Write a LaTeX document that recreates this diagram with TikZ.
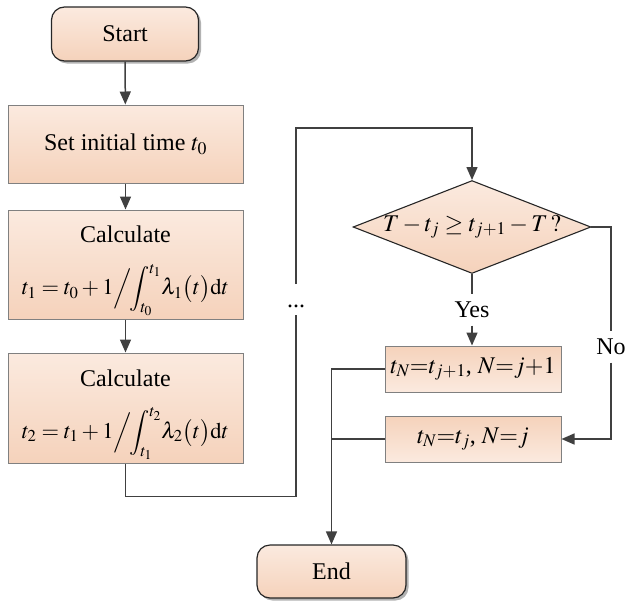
\documentclass[tikz,border=0pt]{standalone}
\usepackage{mathptmx}
\usepackage[no-math]{fontspec}
\setmainfont{Liberation Serif}
\usetikzlibrary{arrows.meta,shapes.geometric,shadows}
\definecolor{peachL}{HTML}{FBEADF}
\definecolor{peachD}{HTML}{F5D2BB}
\definecolor{linec}{HTML}{404040}
\definecolor{edgec}{HTML}{808080}
\newcommand{\fsmall}{\fontsize{22.5}{26}\selectfont}
\begin{document}
\begin{tikzpicture}[x=1pt,y=-1pt, font=\fontsize{24}{28}\selectfont,
  conn/.style={draw=linec, line width=1.5pt},
  arr/.style={conn, -{Triangle[length=13pt,width=11pt]}},
  proc/.style={draw=edgec, line width=1pt, inner sep=0pt, align=center},
  procdown/.style={proc, top color=peachL, bottom color=peachD, minimum width=235pt},
  procup/.style={proc, top color=peachD, bottom color=peachL, minimum width=176pt, minimum height=46pt},
  term/.style={draw=black!85, line width=1.2pt, rounded corners=13pt, top color=peachL, bottom color=peachD,
    minimum width=147pt, minimum height=54pt,
    drop shadow={shadow xshift=2.5pt, shadow yshift=-2.5pt, opacity=0.3, fill=black}},
  decision/.style={diamond, draw=black!85, line width=1.1pt, top color=peachL, bottom color=peachD,
    inner sep=0pt, minimum width=233pt, minimum height=91pt, aspect=2.56},
  lbl/.style={inner sep=0pt, minimum height=31pt}
]
\useasboundingbox (0,0) rectangle (626,603);

\node[term] (start) at (125,34) {Start};
\node[procdown, minimum height=78pt] (init) at (125.5,144) {Set initial time $t_0$};
\node[procdown, minimum height=109pt] (calc1) at (125.5,264.5)
  {\rule{0pt}{30pt}Calculate\\[20pt]{\fsmall$\displaystyle t_1 = t_0 + 1\Big/\!\!\int_{t_0}^{t_1}\!\lambda_1\bigl(t\bigr)\mathrm{d}t$}};
\node[procdown, minimum height=110pt] (calc2) at (125.5,408)
  {\rule{0pt}{30pt}Calculate\\[20pt]{\fsmall$\displaystyle t_2 = t_1 + 1\Big/\!\!\int_{t_1}^{t_2}\!\lambda_2\bigl(t\bigr)\mathrm{d}t$}};
\node[decision] (dec) at (472,227) {$T - t_j \geq t_{j+1} - T\,?$};
\node[procup] (res1) at (473,369) {$t_N{=}t_{j+1}$, $N{=}j{+}1$};
\node[procup] (res2) at (473,439) {$t_N{=}t_j$, $N{=}j$};
\node[term, minimum width=149pt, minimum height=53pt] (end) at (331.5,571.5) {End};

\draw[arr] (start) -- (init);
\draw[arr] (init) -- (calc1);
\draw[arr] (calc1) -- (calc2);

\coordinate (gapB) at (296,315);
\coordinate (gapT) at (296,284);
\coordinate (loopTop) at (296,128);
\node[inner sep=0pt] (dots) at (296,306) {...};
\draw[conn] (calc2.south) -- ++(0,33) -| (gapB);
\draw[arr] (gapT) -- (loopTop) -| (dec.north);

\node[lbl] (yes) at (472,310) {Yes};
\draw[conn] (dec.south) -- (yes);
\draw[arr] (yes) -- (yes |- res1.north);

\node[lbl] (no) at (611,347) {No};
\draw[conn] (dec.east) -| (no);
\draw[arr] (no) |- (res2.east);

\draw[arr] (res1.west) -| (end.north);
\draw[conn] (res2.west) -- (res2.west -| end.north);
\end{tikzpicture}
\end{document}
